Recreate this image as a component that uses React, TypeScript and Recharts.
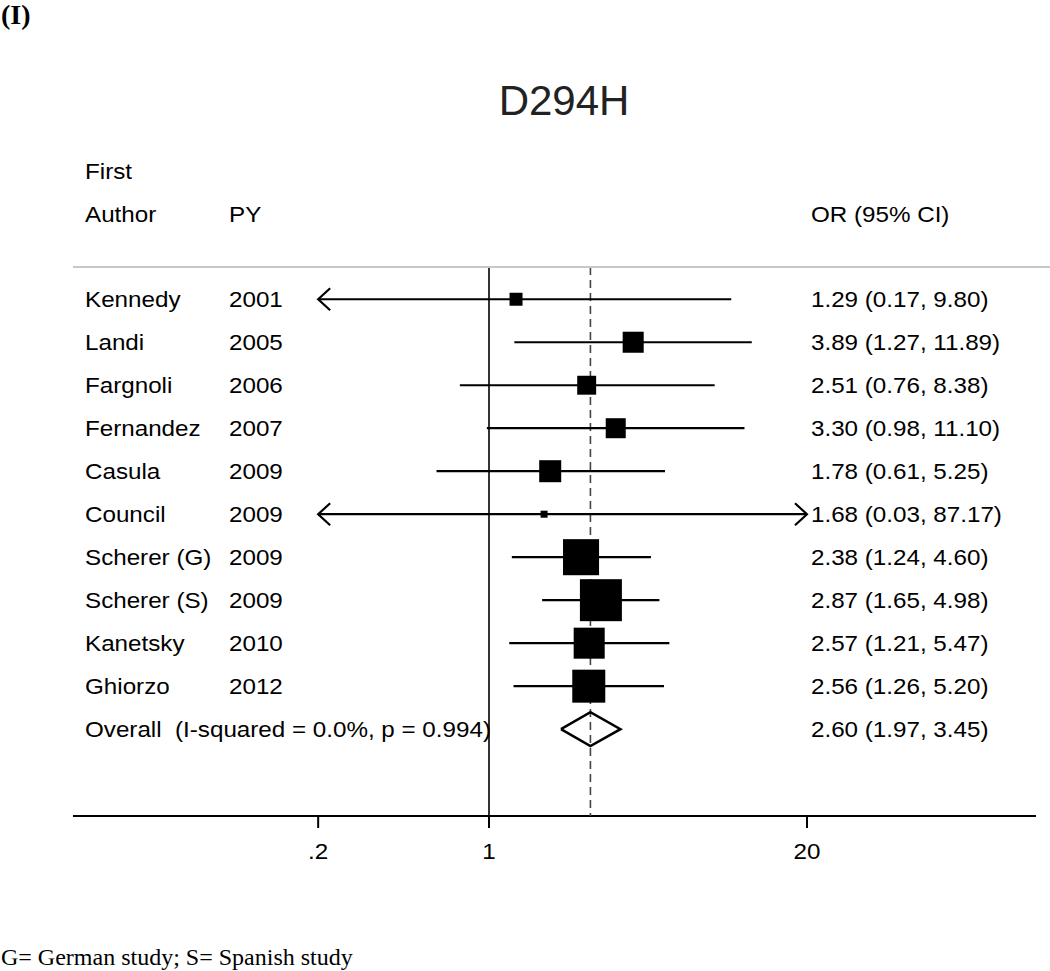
import React from "react";
import { ComposedChart, XAxis, YAxis, Scatter, ReferenceLine } from "recharts";

// study rows
const authors = [
  "Kennedy",
  "Landi",
  "Fargnoli",
  "Fernandez",
  "Casula",
  "Council",
  "Scherer (G)",
  "Scherer (S)",
  "Kanetsky",
  "Ghiorzo",
];
const years = [2001, 2005, 2006, 2007, 2009, 2009, 2009, 2009, 2010, 2012];
const oddsRatios = [1.29, 3.89, 2.51, 3.3, 1.78, 1.68, 2.38, 2.87, 2.57, 2.56];
const lowerCI = [0.17, 1.27, 0.76, 0.98, 0.61, 0.03, 1.24, 1.65, 1.21, 1.26];
const upperCI = [9.8, 11.89, 8.38, 11.1, 5.25, 87.17, 4.6, 4.98, 5.47, 5.2];
// approximate study weights (%) from box areas
const weights = [2.4, 6.3, 5.1, 5.7, 6.9, 0.7, 18.5, 25.1, 13.7, 15.5];

const overallOR = 2.6;
const overallLower = 1.97;
const overallUpper = 3.45;
const overallLabel = "Overall  (I-squared = 0.0%, p = 0.994)";

const axisTicks = [0.2, 1, 20];
const axisTickLabels = [".2", "1", "20"];

const FONT = "'Liberation Sans', Arial, Helvetica, sans-serif";
const SERIF = "'Liberation Serif', 'Times New Roman', serif";
const X_MIN = -1.7021;
const X_MAX = 2.2381;
const Y_MIN = -0.75;
const Y_MAX = 12.02;
const BOX_SCALE = 8.38;
const DIAMOND_H = 0.395;
const COL_AUTHOR = 85;
const COL_YEAR = 229;
const COL_OR = 811;

const lg = (v: number) => Math.log10(v);
const clipLo = lg(axisTicks[0]);
const clipHi = lg(axisTicks[axisTicks.length - 1]);
const overallRow = authors.length;

const fmt = (o: number, l: number, u: number) =>
  `${o.toFixed(2)} (${l.toFixed(2)}, ${u.toFixed(2)})`;

const boxes = oddsRatios.map((o, i) => ({ x: lg(o), y: i, w: weights[i] }));

const ciLines = oddsRatios.map((_, i) => [
  { x: Math.max(lg(lowerCI[i]), clipLo), y: i },
  { x: Math.min(lg(upperCI[i]), clipHi), y: i },
]);

const arrows: { x: number; y: number; dir: number }[] = [];
lowerCI.forEach((l, i) => {
  if (lg(l) < clipLo) arrows.push({ x: clipLo, y: i, dir: -1 });
});
upperCI.forEach((u, i) => {
  if (lg(u) > clipHi) arrows.push({ x: clipHi, y: i, dir: 1 });
});

const diamond = [
  { x: lg(overallLower), y: overallRow },
  { x: lg(overallOR), y: overallRow - DIAMOND_H },
  { x: lg(overallUpper), y: overallRow },
  { x: lg(overallOR), y: overallRow + DIAMOND_H },
  { x: lg(overallLower), y: overallRow },
];

const dashedLine = [
  { x: lg(overallOR), y: Y_MIN },
  { x: lg(overallOR), y: Y_MAX },
];

// one anchor per table row, placed through the y scale
const rowAnchors = [...authors.map((_, i) => i), overallRow].map((i) => ({
  x: 0,
  y: i,
  idx: i,
}));

const SText = ({
  x,
  y,
  anchor = "start",
  children,
}: {
  x: number;
  y: number;
  anchor?: string;
  children: React.ReactNode;
}) => (
  <text
    transform={`translate(${x},${y}) scale(1.1,1)`}
    fontFamily={FONT}
    fontSize={22}
    fill="#000"
    textAnchor={anchor}
    style={{ whiteSpace: "pre" }}
  >
    {children}
  </text>
);

const RowLabel = (props: any) => {
  const { cy, payload } = props;
  const index = payload.idx;
  const base = cy + 8;
  if (index >= authors.length) {
    return (
      <g>
        <SText x={COL_AUTHOR} y={base}>
          {overallLabel}
        </SText>
        <SText x={COL_OR} y={base}>
          {fmt(overallOR, overallLower, overallUpper)}
        </SText>
      </g>
    );
  }
  return (
    <g>
      <SText x={COL_AUTHOR} y={base}>
        {authors[index]}
      </SText>
      <SText x={COL_YEAR} y={base}>
        {String(years[index])}
      </SText>
      <SText x={COL_OR} y={base}>
        {fmt(oddsRatios[index], lowerCI[index], upperCI[index])}
      </SText>
    </g>
  );
};

const XTick = (props: any) => {
  const { x, y, payload } = props;
  const k = axisTicks.findIndex((t) => Math.abs(lg(t) - payload.value) < 1e-6);
  return (
    <SText x={x} y={y + 29} anchor="middle">
      {axisTickLabels[k]}
    </SText>
  );
};

const Box = (props: any) => {
  const { cx, cy, payload } = props;
  const s = BOX_SCALE * Math.sqrt(payload.w);
  return <rect x={cx - s / 2} y={cy - s / 2} width={s} height={s} fill="#000" />;
};

const Arrow = (props: any) => {
  const { cx, cy, payload } = props;
  const d = -payload.dir * 12;
  return (
    <polyline
      points={`${cx + d},${cy - 11} ${cx},${cy} ${cx + d},${cy + 11}`}
      fill="none"
      stroke="#000"
      strokeWidth={2.2}
    />
  );
};

const NoDot = () => <g />;

export default function App() {
  return (
    <div
      style={{
        position: "absolute",
        left: 0,
        top: 0,
        width: 1050,
        height: 971,
        background: "#fff",
      }}
    >
      <ComposedChart
        width={1050}
        height={971}
        margin={{ top: 267, right: 14, bottom: 95, left: 73 }}
      >
        <XAxis
          type="number"
          dataKey="x"
          domain={[X_MIN, X_MAX]}
          allowDataOverflow
          ticks={axisTicks.map(lg)}
          interval={0}
          height={60}
          tickSize={12}
          tickLine={{ stroke: "#000", strokeWidth: 2 }}
          axisLine={{ stroke: "#000", strokeWidth: 2 }}
          tick={<XTick />}
        />
        <YAxis
          type="number"
          dataKey="y"
          domain={[Y_MIN, Y_MAX]}
          reversed
          allowDataOverflow
          hide
        />
        <ReferenceLine x={0} stroke="#000" strokeWidth={1.6} />
        <Scatter
          data={dashedLine}
          line={{ stroke: "#444", strokeWidth: 1.6, strokeDasharray: "8 5" }}
          shape={NoDot}
          isAnimationActive={false}
        />
        {ciLines.map((seg, i) => (
          <Scatter
            key={`ci-${i}`}
            data={seg}
            line={{ stroke: "#000", strokeWidth: 2.2 }}
            shape={NoDot}
            isAnimationActive={false}
          />
        ))}
        <Scatter data={arrows} shape={Arrow} isAnimationActive={false} />
        <Scatter data={boxes} shape={Box} isAnimationActive={false} />
        <Scatter
          data={diamond}
          line={{ stroke: "#000", strokeWidth: 2.5, strokeLinejoin: "miter" }}
          shape={NoDot}
          isAnimationActive={false}
        />
        <Scatter data={rowAnchors} shape={RowLabel} isAnimationActive={false} />
      </ComposedChart>
      <svg
        width={1050}
        height={971}
        style={{ position: "absolute", left: 0, top: 0, pointerEvents: "none" }}
      >
        <text x={1} y={24} fontFamily={SERIF} fontWeight="bold" fontSize={28} fill="#000">
          (I)
        </text>
        <text
          x={564}
          y={115}
          fontFamily={FONT}
          fontSize={42}
          fill="#222"
          textAnchor="middle"
        >
          D294H
        </text>
        <SText x={COL_AUTHOR} y={179}>
          First
        </SText>
        <SText x={COL_AUTHOR} y={222}>
          Author
        </SText>
        <SText x={COL_YEAR} y={222}>
          PY
        </SText>
        <SText x={COL_OR} y={222}>
          OR (95% CI)
        </SText>
        <line x1={73} y1={267} x2={1050} y2={267} stroke="#c8c8c8" strokeWidth={2} />
        <text x={1} y={965} fontFamily={SERIF} fontSize={24} fill="#000">
          G= German study; S= Spanish study
        </text>
      </svg>
    </div>
  );
}
